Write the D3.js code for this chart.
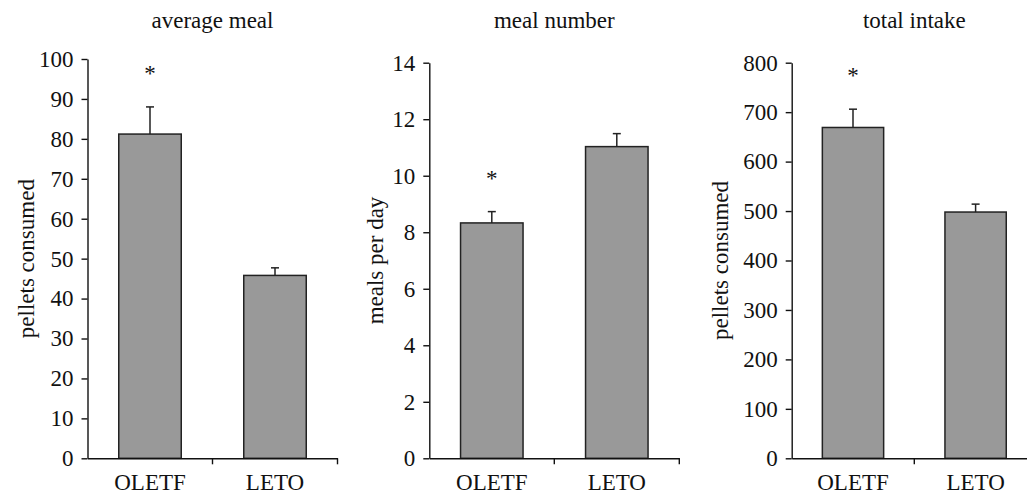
<!DOCTYPE html>
<html>
<head>
<meta charset="utf-8">
<script src="https://cdn.jsdelivr.net/npm/d3@7"></script>
<style>
  html, body { margin: 0; padding: 0; background: #fff; }
  svg { display: block; }
  text { font-family: "Liberation Serif", "Times New Roman", serif; fill: #111; }
</style>
</head>
<body>
<svg id="chart" width="1027" height="494"></svg>
<script>
// ---- data ----
const categories = ["OLETF", "LETO"];
const panelTitles = ["average meal", "meal number", "total intake"];
const yAxisLabels = ["pellets consumed", "meals per day", "pellets consumed"];

const avgMealMeans = [81.2, 45.8];
const avgMealErrors = [6.8, 1.9];
const mealNumberMeans = [8.33, 11.03];
const mealNumberErrors = [0.4, 0.46];
const totalIntakeMeans = [669, 498];
const totalIntakeErrors = [37, 16];

const avgMealTicks = [0, 10, 20, 30, 40, 50, 60, 70, 80, 90, 100];
const mealNumberTicks = [0, 2, 4, 6, 8, 10, 12, 14];
const totalIntakeTicks = [0, 100, 200, 300, 400, 500, 600, 700, 800];

const avgMealSignificant = [true, false];
const mealNumberSignificant = [true, false];
const totalIntakeSignificant = [true, false];

// ---- layout (pixels) ----
const layout = [
  { x0: 87.5, band: 125, top: 59, labelX: 26 },
  { x0: 429.3, band: 125, top: 62.7, labelX: 375.5 },
  { x0: 791.7, band: 122.6, top: 62.7, labelX: 720.5 }
];
const bottom = 458.3;
const fontSize = 23;

const panels = [
  { title: panelTitles[0], ylabel: yAxisLabels[0], means: avgMealMeans, errs: avgMealErrors, ticks: avgMealTicks, sig: avgMealSignificant },
  { title: panelTitles[1], ylabel: yAxisLabels[1], means: mealNumberMeans, errs: mealNumberErrors, ticks: mealNumberTicks, sig: mealNumberSignificant },
  { title: panelTitles[2], ylabel: yAxisLabels[2], means: totalIntakeMeans, errs: totalIntakeErrors, ticks: totalIntakeTicks, sig: totalIntakeSignificant }
];

const svg = d3.select("#chart");

panels.forEach((p, i) => {
  const L = layout[i];
  const g = svg.append("g");
  const y = d3.scaleLinear().domain([0, d3.max(p.ticks)]).range([bottom, L.top]);
  const x = d3.scaleBand().domain(categories).range([L.x0, L.x0 + 2 * L.band]).paddingInner(0).paddingOuter(0);
  const bw = x.bandwidth() * 0.5;

  // bars
  g.selectAll("rect.bar").data(categories).enter().append("rect")
    .attr("x", d => x(d) + (x.bandwidth() - bw) / 2)
    .attr("y", (d, j) => y(p.means[j]))
    .attr("width", bw)
    .attr("height", (d, j) => bottom - y(p.means[j]))
    .attr("fill", "#999999")
    .attr("stroke", "#222")
    .attr("stroke-width", 1.5);

  // error bars
  categories.forEach((c, j) => {
    const cx = x(c) + x.bandwidth() / 2;
    g.append("line").attr("x1", cx).attr("x2", cx)
      .attr("y1", y(p.means[j])).attr("y2", y(p.means[j] + p.errs[j]))
      .attr("stroke", "#222").attr("stroke-width", 1.5);
    g.append("line").attr("x1", cx - 4).attr("x2", cx + 4)
      .attr("y1", y(p.means[j] + p.errs[j])).attr("y2", y(p.means[j] + p.errs[j]))
      .attr("stroke", "#222").attr("stroke-width", 1.5);
    if (p.sig[j]) {
      g.append("text").attr("x", cx).attr("y", y(p.means[j] + p.errs[j]) - 26)
        .attr("text-anchor", "middle").attr("font-size", fontSize).text("*");
    }
  });

  // y axis
  const yAxis = g.append("g").attr("transform", `translate(${L.x0},0)`)
    .call(d3.axisLeft(y).tickValues(p.ticks).tickSize(6).tickSizeOuter(0).tickPadding(8).tickFormat(d3.format("d")));
  yAxis.selectAll("text").attr("font-size", fontSize).attr("fill", "#111");
  yAxis.selectAll("line, path").attr("stroke", "#111").attr("stroke-width", 1.4);

  // x axis
  const xAxis = g.append("g").attr("transform", `translate(0,${bottom})`)
    .call(d3.axisBottom(x).tickSize(0).tickSizeOuter(0).tickPadding(15));
  xAxis.selectAll("text").attr("font-size", fontSize).attr("fill", "#111");
  xAxis.selectAll("path").attr("stroke", "#111").attr("stroke-width", 1.4);
  categories.forEach(c => {
    const bx = x(c) + x.bandwidth();
    xAxis.append("line").attr("x1", bx).attr("x2", bx).attr("y1", 0).attr("y2", 6)
      .attr("stroke", "#111").attr("stroke-width", 1.4);
  });

  // title
  g.append("text").attr("x", L.x0 + L.band).attr("y", 28)
    .attr("text-anchor", "middle").attr("font-size", fontSize).text(p.title);

  // y label
  g.append("text")
    .attr("transform", `translate(${L.labelX},${(bottom + L.top) / 2}) rotate(-90)`)
    .attr("text-anchor", "middle").attr("dominant-baseline", "central")
    .attr("font-size", fontSize).text(p.ylabel);
});
</script>
</body>
</html>
